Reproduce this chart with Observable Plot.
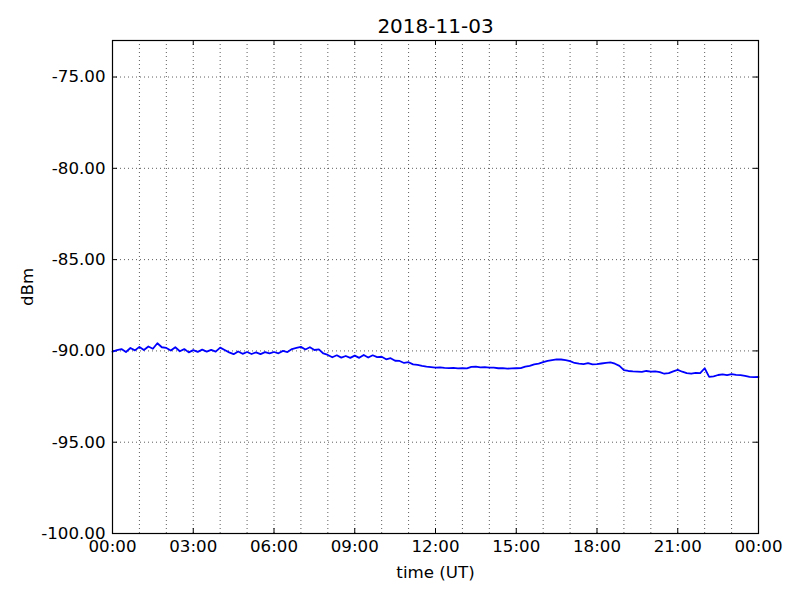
<!DOCTYPE html>
<html>
<head>
<meta charset="utf-8">
<script src="https://cdn.jsdelivr.net/npm/d3@7"></script>
<script src="https://cdn.jsdelivr.net/npm/@observablehq/plot@0.6"></script>
<style>
  html, body { margin: 0; padding: 0; background: #fff; }
</style>
</head>
<body>
<div id="chart"></div>
<script>
const title = "2018-11-03";
const xLabel = "time (UT)";
const yLabel = "dBm";
const startUTC = Date.UTC(2018, 10, 3, 0, 0);
const endUTC = Date.UTC(2018, 10, 4, 0, 0);
const stepMinutes = 10;
const yTicks = [-100, -95, -90, -85, -80, -75];
const yDomain = [-100, -73];

// signal level, one reading every 10 minutes from 00:00 to 24:00 UT
const dbm = [
  -90.04, -89.96, -89.90, -90.06, -89.84, -89.97,
  -89.78, -89.95, -89.76, -89.88, -89.58, -89.80,
  -89.84, -89.98, -89.80, -90.02, -89.90, -90.08,
  -89.96, -90.05, -89.93, -90.04, -89.94, -90.04,
  -89.82, -89.95, -90.08, -90.18, -90.03, -90.16,
  -90.06, -90.17, -90.08, -90.18, -90.07, -90.14,
  -90.06, -90.13, -90.00, -90.06, -89.90, -89.84,
  -89.78, -89.92, -89.80, -89.95, -89.92, -90.14,
  -90.22, -90.35, -90.24, -90.37, -90.28, -90.38,
  -90.26, -90.38, -90.22, -90.36, -90.24, -90.34,
  -90.32, -90.46, -90.40, -90.54, -90.55, -90.66,
  -90.62, -90.74, -90.77, -90.82, -90.86, -90.89,
  -90.92, -90.90, -90.93, -90.94, -90.93, -90.96,
  -90.94, -90.96, -90.87, -90.86, -90.90, -90.89,
  -90.92, -90.92, -90.95, -90.94, -90.97, -90.96,
  -90.95, -90.94, -90.86, -90.82, -90.74, -90.70,
  -90.62, -90.55, -90.50, -90.46, -90.47, -90.50,
  -90.56, -90.66, -90.70, -90.72, -90.67, -90.74,
  -90.72, -90.69, -90.66, -90.63, -90.70, -90.82,
  -91.05, -91.10, -91.12, -91.13, -91.15, -91.10,
  -91.14, -91.12, -91.16, -91.25, -91.22, -91.12,
  -91.04, -91.14, -91.22, -91.25, -91.20, -91.22,
  -90.95, -91.42, -91.40, -91.32, -91.28, -91.33,
  -91.27, -91.31, -91.33, -91.37, -91.42, -91.44,
  -91.43
];

const data = dbm.map((v, i) => ({t: new Date(startUTC + i * stepMinutes * 60000), v}));
const start = new Date(startUTC), end = new Date(endUTC);
const hourTicks = d3.utcHour.range(start, new Date(endUTC + 1));
const majorTicks = d3.utcHour.every(3).range(start, new Date(endUTC + 1));

const W = 800, H = 600, mL = 112, mR = 42, mT = 40, mB = 67;
const innerW = W - mL - mR, innerH = H - mT - mB;
const tickLen = 5;
const grid = {stroke: "#000", strokeOpacity: 0.8, strokeWidth: 0.8, strokeDasharray: "1,3"};

const chart = Plot.plot({
  width: W, height: H,
  marginLeft: mL, marginRight: mR, marginTop: mT, marginBottom: mB,
  style: {fontFamily: "DejaVu Sans, sans-serif", fontSize: "16.67px", color: "#000", background: "#fff"},
  x: {type: "utc", domain: [start, end]},
  y: {domain: yDomain},
  marks: [
    Plot.gridX(hourTicks, grid),
    Plot.gridY(yTicks, grid),
    Plot.axisX(majorTicks, {tickSize: 0, tickPadding: 7, tickFormat: d3.utcFormat("%H:%M"), label: null, fontSize: 16.67}),
    Plot.axisY(yTicks, {tickSize: 0, tickPadding: 7, tickFormat: d => d.toFixed(2), label: null, fontSize: 16.67}),
    // inward ticks on all four sides
    Plot.tickX(majorTicks, {x: d => d, insetTop: innerH - tickLen, stroke: "#000"}),
    Plot.tickX(majorTicks, {x: d => d, insetBottom: innerH - tickLen, stroke: "#000"}),
    Plot.tickY(yTicks, {y: d => d, insetRight: innerW - tickLen, stroke: "#000"}),
    Plot.tickY(yTicks, {y: d => d, insetLeft: innerW - tickLen, stroke: "#000"}),
    Plot.line(data, {x: "t", y: "v", stroke: "#0000ff", strokeWidth: 1.8}),
    Plot.frame({stroke: "#000", strokeWidth: 1.2}),
    Plot.text([title], {frameAnchor: "top", lineAnchor: "middle", dy: -14, fontSize: 20, fill: "#000"}),
    Plot.text([xLabel], {frameAnchor: "bottom", lineAnchor: "middle", dy: 39, fontSize: 16.67, fill: "#000"}),
    Plot.text([yLabel], {frameAnchor: "left", textAnchor: "middle", lineAnchor: "middle", dx: -85, rotate: -90, fontSize: 16.67, fill: "#000"})
  ]
});
document.getElementById("chart").appendChild(chart);
</script>
</body>
</html>
